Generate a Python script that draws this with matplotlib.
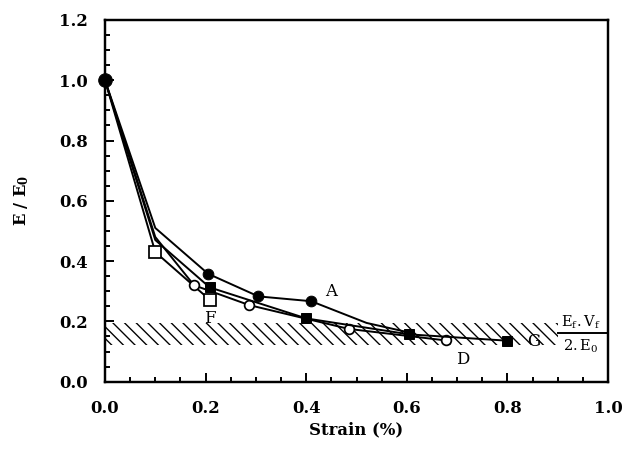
import matplotlib
matplotlib.use("Agg")
import matplotlib.pyplot as plt
from matplotlib.ticker import MultipleLocator

DPI = 70
plt.rcParams['font.family'] = ['DejaVu Serif']
plt.rcParams['mathtext.fontset'] = 'dejavuserif'
plt.rcParams['hatch.linewidth'] = 1.4

# Series data (strain %, E/E0)
a_x = [0.0, 0.1, 0.205, 0.305, 0.41, 0.52, 0.60]
a_y = [1.0, 0.51, 0.358, 0.283, 0.267, 0.195, 0.165]
a_marks = [0, 2, 3, 4]

g_x = [0.0, 0.1, 0.208, 0.40, 0.605, 0.80]
g_y = [1.0, 0.47, 0.313, 0.21, 0.157, 0.136]
g_marks = [2, 3, 4, 5]

d_x = [0.0, 0.1, 0.177, 0.287, 0.485, 0.677]
d_y = [1.0, 0.48, 0.32, 0.254, 0.175, 0.137]
d_marks = [2, 3, 4, 5]

f_x = [0.0, 0.1, 0.208]
f_y = [1.0, 0.43, 0.272]
f_marks = [1, 2]

# Hatched band E_f.V_f / 2.E_0
band_x = [0.0, 0.90]
band_low = 0.122
band_high = 0.196
limit_x = [0.90, 1.0]
limit_y = 0.162

labels = ['A', 'D', 'F', 'G']
label_x = [0.45, 0.712, 0.209, 0.852]
label_y = [0.298, 0.072, 0.21, 0.135]

x_ticks = [0.0, 0.2, 0.4, 0.6, 0.8, 1.0]
y_ticks = [0.0, 0.2, 0.4, 0.6, 0.8, 1.0, 1.2]

fig = plt.figure(figsize=(626 / DPI, 461 / DPI), dpi=DPI)
ax = fig.add_axes([105 / 626, 1 - 381.7 / 461, (608 - 105) / 626, (381.7 - 20) / 461])

ax.fill_between(band_x, band_low, band_high, facecolor='none', edgecolor='black',
                hatch='\\\\', linewidth=0, zorder=1)
ax.plot(limit_x, [limit_y, limit_y], color='black', lw=2, zorder=2, clip_on=False)

lw = 2.0
ax.plot(f_x, f_y, color='black', lw=lw, marker='s', ms=12, mfc='white', mec='black',
        mew=1.8, markevery=f_marks, zorder=3, clip_on=False)
ax.plot(d_x, d_y, color='black', lw=lw, marker='o', ms=10, mfc='white', mec='black',
        mew=1.8, markevery=d_marks, zorder=4, clip_on=False)
ax.plot(g_x, g_y, color='black', lw=lw, marker='s', ms=11, mfc='black', mec='black',
        markevery=g_marks, zorder=5, clip_on=False)
ax.plot(a_x, a_y, color='black', lw=lw, marker='o', ms=11, mfc='black', mec='black',
        markevery=a_marks, zorder=6, clip_on=False)
ax.plot([a_x[0]], [a_y[0]], marker='o', ms=14, color='black', zorder=7, clip_on=False)

for t, x, y in zip(labels, label_x, label_y):
    ax.text(x, y, t, fontsize=17, ha='center', va='center', zorder=8)

ax.text(0.946, 0.196, r'$\mathrm{E_f{.}V_f}$', fontsize=15, ha='center', va='center')
ax.text(0.946, 0.116, r'$\mathrm{2{.}E_0}$', fontsize=15, ha='center', va='center')

ax.set_xlim(0, 1.0)
ax.set_ylim(0, 1.2)
ax.set_xticks(x_ticks)
ax.set_yticks(y_ticks)
ax.set_xticklabels([f'{v:.1f}' for v in x_ticks])
ax.set_yticklabels([f'{v:.1f}' for v in y_ticks])
ax.xaxis.set_minor_locator(MultipleLocator(0.05))
ax.yaxis.set_minor_locator(MultipleLocator(0.05))
ax.tick_params(which='both', direction='in', top=False, right=False, width=2)
ax.tick_params(which='major', length=9, labelsize=17)
ax.tick_params(axis='x', which='major', pad=19)
ax.tick_params(axis='y', which='major', pad=18)
ax.tick_params(which='minor', length=5)
for lab in ax.get_xticklabels() + ax.get_yticklabels():
    lab.set_fontweight('bold')
for s in ax.spines.values():
    s.set_linewidth(2.5)

ax.set_xlabel('Strain (%)', fontsize=17, fontweight='bold', labelpad=4)
ax.set_ylabel(r'$\mathbf{E\ /\ E_0}$', fontsize=17, labelpad=28)

fig.savefig('out.png', dpi=DPI)
